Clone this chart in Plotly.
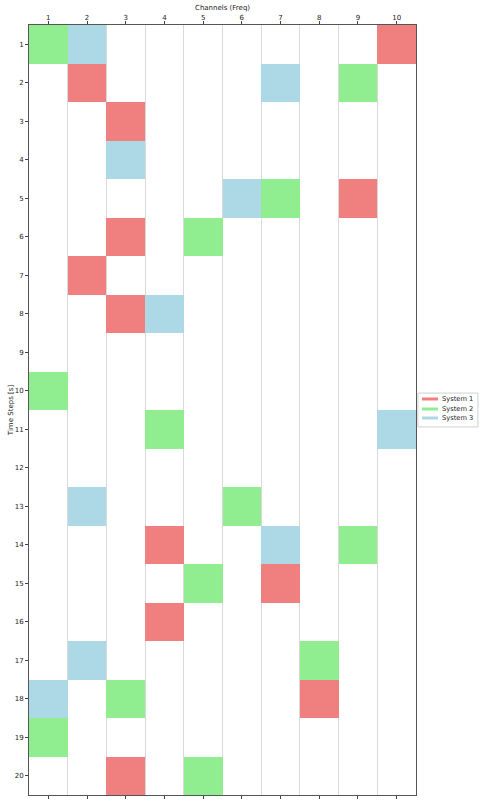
import plotly.graph_objects as go

# Data: (time step, channel) per system
sys1_time = [1, 2, 3, 5, 6, 7, 8, 14, 15, 16, 18, 20]
sys1_chan = [10, 2, 3, 9, 3, 2, 3, 4, 7, 4, 8, 3]
sys2_time = [1, 2, 5, 6, 10, 11, 13, 14, 15, 17, 18, 19, 20]
sys2_chan = [1, 9, 7, 5, 1, 4, 6, 9, 5, 8, 3, 1, 5]
sys3_time = [1, 2, 4, 5, 8, 11, 13, 14, 17, 18]
sys3_chan = [2, 7, 3, 6, 4, 10, 2, 7, 2, 1]

names = ["System 1", "System 2", "System 3"]
colors = ["#F08080", "#90EE90", "#ADD8E6"]
channels = list(range(1, 11))
steps = list(range(1, 21))

fig = go.Figure()
for name, col, ts, cs in zip(names, colors, [sys1_time, sys2_time, sys3_time],
                             [sys1_chan, sys2_chan, sys3_chan]):
    fig.add_trace(go.Bar(
        x=cs, y=[1] * len(ts), base=[t - 0.5 for t in ts], width=1,
        marker=dict(color=col, line=dict(width=0)), showlegend=False,
        name=name, hoverinfo="skip"))

# Compact legend (matplotlib style) right of the plot area
leg_x0, leg_x1 = 1.005, 1.160
leg_top, leg_bot = 0.522, 0.478
row_y = [0.5143, 0.5013, 0.4896]
fig.add_shape(type="rect", xref="paper", yref="paper", x0=leg_x0, x1=leg_x1,
              y0=leg_bot, y1=leg_top, line=dict(color="#d0d0d0", width=1),
              fillcolor="white", layer="above")
for name, col, ry in zip(names, colors, row_y):
    fig.add_shape(type="line", xref="paper", yref="paper", x0=1.0155, x1=1.057,
                  y0=ry, y1=ry, line=dict(color=col, width=3), layer="above")
    fig.add_annotation(xref="paper", yref="paper", x=1.066, y=ry, text=name,
                       showarrow=False, xanchor="left", yanchor="middle",
                       xshift=-2, font=dict(size=6.7, color="#222"))

# x-axis title (top)
fig.add_annotation(xref="paper", yref="paper", x=0.5, y=1, yshift=17.5,
                   text="Channels (Freq)", showarrow=False,
                   xanchor="center", yanchor="middle", font=dict(size=7, color="#222"))

axis_common = dict(showline=True, linecolor="#555", linewidth=1,
                   ticks="outside", ticklen=3, tickcolor="#444", zeroline=False,
                   automargin=False, tickfont=dict(size=7, color="#222"))
fig.update_layout(
    width=482, height=803,
    paper_bgcolor="white", plot_bgcolor="white",
    font=dict(family="DejaVu Sans", size=7, color="#222"),
    margin=dict(l=29, r=66, t=25, b=8),
    barmode="overlay", bargap=0, showlegend=False,
    xaxis=dict(side="top", range=[0.5, 10.5], tickvals=channels, mirror="ticks",
               ticklabelstandoff=-2, showgrid=False,
               minor=dict(tickvals=[c + 0.5 for c in range(0, 11)], showgrid=True,
                          gridcolor="#d9d9d9", gridwidth=1, ticks=""),
               **axis_common),
    yaxis=dict(range=[20.5, 0.5], tickvals=steps, showgrid=False, mirror=True,
               title=dict(text="Time Steps [s]", standoff=0, font=dict(size=7)),
               **axis_common),
)
fig.write_html("out.html", config={"displayModeBar": False},
               post_script=["document.body.style.margin='0';"])
